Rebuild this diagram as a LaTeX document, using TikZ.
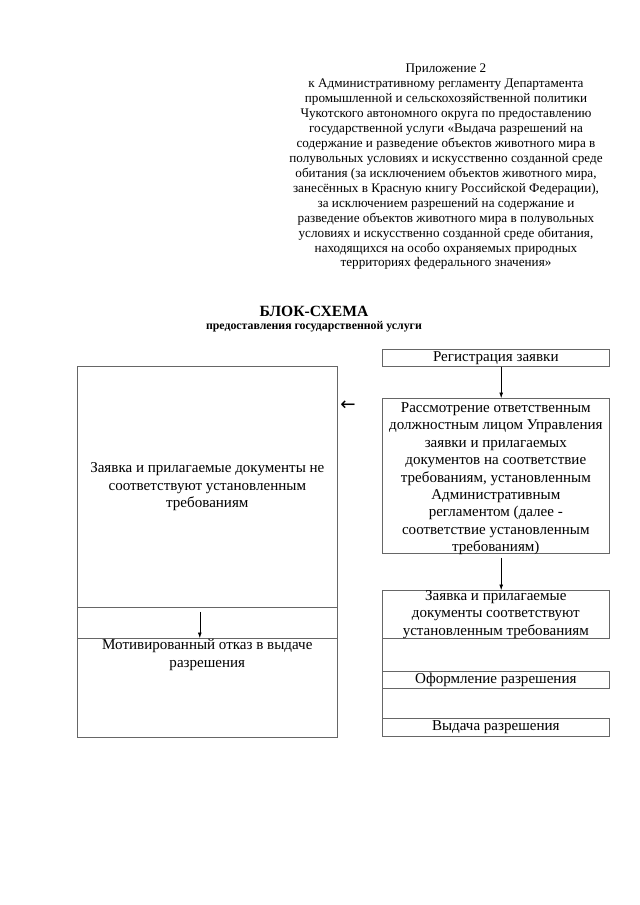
\documentclass[tikz,border=0pt]{standalone}
\usepackage{fontspec}
\setmainfont{Liberation Serif}
\newfontfamily\arrowfont{DejaVu Sans}
\usetikzlibrary{arrows.meta}
\newdimen\px \px=0.9301pt
\tikzset{
  cell/.style={draw=black!60, line width=0.6pt, inner sep=0pt, align=center, anchor=north west, font=\fontsize{14}{16.2}\selectfont},
  celltext/.style={align=center, anchor=north, inner sep=0pt, font=\fontsize{14}{16.2}\selectfont},
  side/.style={draw=black!60, line width=0.6pt},
  arr/.style={-{Latex[length=5pt,width=3.5pt]}, line width=0.5pt},
}
\begin{document}
\begin{tikzpicture}[x=0.9301pt,y=-0.9301pt]
\useasboundingbox (0,0) rectangle (640,905);

\node[align=center, anchor=north, inner sep=0pt, font=\fontsize{12.25}{13.88}\selectfont] (annex) at (446,64) {Приложение 2\\к Административному регламенту Департамента\\промышленной и сельскохозяйственной политики\\Чукотского автономного  округа по предоставлению\\государственной услуги «Выдача разрешений на\\содержание и разведение объектов животного мира в\\полувольных условиях и искусственно созданной среде\\обитания (за исключением объектов животного мира,\\занесённых в Красную книгу Российской Федерации),\\за исключением разрешений на содержание и\\разведение объектов животного мира в полувольных\\условиях и искусственно созданной среде обитания,\\находящихся на особо охраняемых природных\\территориях федерального значения»};
\node[font=\bfseries\fontsize{14.5}{15}\selectfont] (title) at (314,311) {БЛОК-СХЕМА};
\node[font=\bfseries\fontsize{11}{13}\selectfont] (subtitle) at (314,327) {предоставления государственной услуги};

% right column
\node[cell, minimum width=227\px, minimum height=17\px] (reg) at (382,349) {Регистрация заявки};
\node[cell, minimum width=227\px, minimum height=155\px] (review) at (382,398) {};
\node[celltext] (reviewtext) at ([yshift=-4pt]review.north) {Рассмотрение ответственным\\должностным лицом Управления\\заявки и прилагаемых\\документов на соответствие\\требованиям, установленным\\Административным\\регламентом (далее -\\соответствие установленным\\требованиям)};
\node[cell, minimum width=227\px, minimum height=47\px] (ok) at (382,590) {Заявка и прилагаемые\\документы соответствуют\\установленным требованиям};
\node[cell, minimum width=227\px, minimum height=17\px] (form) at (382,671) {Оформление разрешения};
\node[cell, minimum width=227\px, minimum height=18\px] (issue) at (382,718) {Выдача разрешения};

% left column
\node[cell, minimum width=260\px, minimum height=241\px] (notok) at (77,366) {Заявка и прилагаемые документы не\\соответствуют установленным\\требованиям};
\node[cell, minimum width=260\px, minimum height=99\px] (refusal) at (77,638) {};
\node[celltext] (refusaltext) at ([yshift=-1pt]refusal.north) {Мотивированный отказ в выдаче\\разрешения};

\node[font=\arrowfont\fontsize{17}{17}\selectfont] (back) at (348,406) {←};

\draw[arr] ([xshift=5pt]reg.south) -- ([xshift=5pt]review.north);
\draw[arr, shorten <=4pt] ([xshift=5pt]review.south) -- ([xshift=5pt]ok.north);
\draw[arr, shorten <=4pt] ([xshift=-7pt]notok.south) -- ([xshift=-7pt]refusal.north);
\draw[side] (notok.south west) -- (refusal.north west) (notok.south east) -- (refusal.north east);
\draw[side] (ok.south west) -- (form.north west) (form.south west) -- (issue.north west);
\end{tikzpicture}
\end{document}
